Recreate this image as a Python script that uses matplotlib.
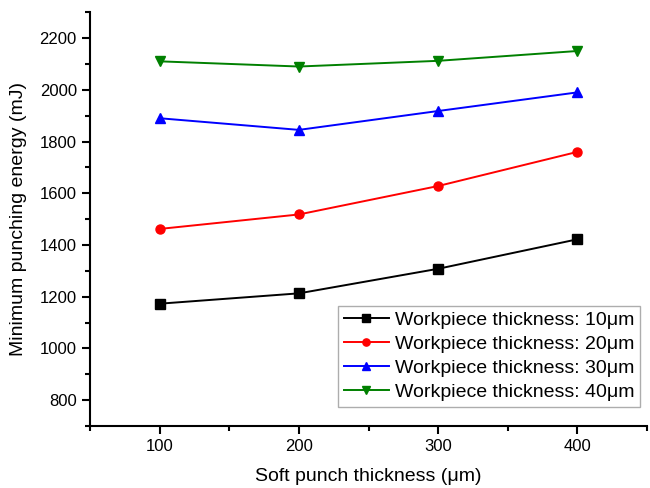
from matplotlib import pyplot as plt
from matplotlib.ticker import MultipleLocator

# ----------------------------------------------------------------------------
# Data

soft_punch = [100, 200, 300, 400]
energy_10um = [1173, 1213, 1308, 1422]
energy_20um = [1462, 1518, 1628, 1760]
energy_30um = [1890, 1845, 1918, 1990]
energy_40um = [2110, 2090, 2112, 2150]

series = [
    (energy_10um, 'black', 's', 'Workpiece thickness: 10μm'),
    (energy_20um, 'red', 'o', 'Workpiece thickness: 20μm'),
    (energy_30um, 'blue', '^', 'Workpiece thickness: 30μm'),
    (energy_40um, 'green', 'v', 'Workpiece thickness: 40μm'),
]

# ----------------------------------------------------------------------------


def main():

    plt.rcParams['font.family'] = ['Liberation Sans', 'DejaVu Sans']

    fig = plt.figure(figsize=(6.5, 4.88), dpi=100)
    ax = fig.add_axes([0.1385, 0.127, 0.857, 0.848])

    for values, color, marker, label in series:
        ax.plot(soft_punch, values, color=color, marker=marker,
                markersize=6.5, linewidth=1.4, label=label)

    ax.set_xlim(50, 450)
    ax.set_ylim(700, 2300)
    ax.xaxis.set_major_locator(MultipleLocator(100))
    ax.xaxis.set_minor_locator(MultipleLocator(50))
    ax.yaxis.set_major_locator(MultipleLocator(200))
    ax.yaxis.set_minor_locator(MultipleLocator(100))
    ax.set_yticks(range(800, 2201, 200))

    for side in ('top', 'right'):
        ax.spines[side].set_visible(False)
    for side in ('left', 'bottom'):
        ax.spines[side].set_linewidth(1.5)

    ax.tick_params(which='major', direction='out', length=5.5, width=1.5,
                   labelsize=12, pad=4)
    ax.tick_params(which='minor', direction='out', length=3.5, width=1.5)

    ax.set_xlabel('Soft punch thickness (μm)', fontsize=14, labelpad=10)
    ax.set_ylabel('Minimum punching energy (mJ)', fontsize=14, labelpad=9)

    leg = ax.legend(loc='lower right', fontsize=14, fancybox=False,
                    edgecolor='#999999', handlelength=2.3, labelspacing=0.33,
                    borderpad=0.3, handletextpad=0.3, markerscale=0.8,
                    borderaxespad=0.0, bbox_to_anchor=(0.987, 0.046))
    leg.get_frame().set_linewidth(1.0)

    fig.savefig('out.png', dpi=100)

    return None

# ----------------------------------------------------------------------------


if __name__ == '__main__':
    main()
